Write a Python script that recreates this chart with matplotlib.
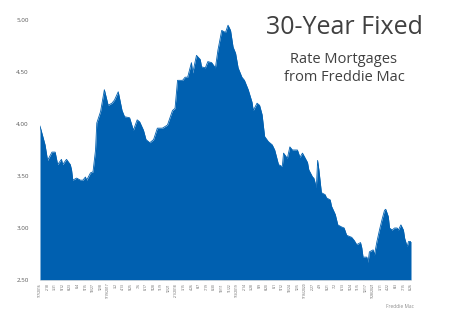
import matplotlib
matplotlib.use("Agg")
import matplotlib.pyplot as plt
import pandas as pd

# weeks since 1/7/2016 and 30-year fixed rate (%)
weeks = [0, 4, 6, 9.5, 12, 14, 17, 18, 21, 24, 25, 26, 29, 32, 34, 36, 37, 40, 42, 44,
         45, 48, 51, 54, 57, 59, 62, 65, 67, 71, 74, 77, 79, 82, 84, 87, 90, 93, 97, 101,
         105, 107, 109, 113, 115, 117, 120, 121, 124, 127, 128, 131, 133, 136, 139, 141,
         144, 147, 149, 151, 153, 155, 157, 160, 162, 165, 168, 169, 172, 174, 176, 178,
         181, 184, 186, 189, 192, 193, 196, 198, 200, 204, 206, 208, 212, 213, 216, 217,
         219, 220, 221, 223, 226, 227, 230, 231, 234, 236, 239, 241, 243, 247, 249, 251,
         254, 255, 256, 259, 260, 261, 264, 265, 267, 269, 271, 273, 274, 276, 277, 279,
         281, 283, 284, 286, 288, 289, 291, 292, 294]
rates = [3.98, 3.80, 3.65, 3.73, 3.73, 3.61, 3.66, 3.61, 3.66, 3.61, 3.56, 3.46, 3.48, 3.46,
         3.46, 3.49, 3.46, 3.53, 3.54, 3.75,
         4.01, 4.12, 4.33, 4.18, 4.20, 4.23, 4.31, 4.13, 4.07, 4.06, 3.94, 4.04, 4.02, 3.94,
         3.85, 3.82, 3.85, 3.96, 3.96, 3.99,
         4.13, 4.15, 4.42, 4.42, 4.45, 4.45, 4.59, 4.49, 4.66, 4.62, 4.55, 4.54, 4.60, 4.59,
         4.54, 4.71,
         4.90, 4.88, 4.95, 4.90, 4.74, 4.68, 4.54, 4.45, 4.42, 4.33, 4.21, 4.13, 4.20, 4.18,
         4.09, 3.88,
         3.83, 3.80, 3.75, 3.61, 3.59, 3.72, 3.67, 3.78, 3.75, 3.75, 3.68, 3.72, 3.63, 3.56,
         3.49, 3.48,
         3.39, 3.65, 3.56, 3.34, 3.32, 3.29, 3.27, 3.21, 3.13, 3.03, 3.01, 3.00, 2.93, 2.91,
         2.88, 2.84,
         2.86, 2.81, 2.72, 2.72, 2.67, 2.77, 2.79, 2.74, 2.87, 2.98, 3.08, 3.17, 3.18, 3.11,
         3.00, 2.98,
         3.00, 3.00, 2.98, 3.03, 2.98, 2.90, 2.82, 2.87, 2.87]

yticks = [2.50, 3.00, 3.50, 4.00, 4.50, 5.00]
start = pd.Timestamp("2016-01-07")
tick_weeks = list(range(0, 295, 6))
tick_dates = [start + pd.Timedelta(weeks=w) for w in tick_weeks]
tick_labels = []
prev_year = None
for d in tick_dates:
    if prev_year is None or d.year != prev_year:
        tick_labels.append(f"{d.month}/{d.day}/{d.year}")
    else:
        tick_labels.append(f"{d.month}/{d.day}")
    prev_year = d.year

blue = "#0060B0"
gray = "#595959"

fig = plt.figure(figsize=(4.5, 3.14), dpi=100)
ax = fig.add_axes([40/450, 34/314, 371/450, 260/314])
ax.fill_between(weeks, rates, 2.5, color=blue, lw=0)
ax.plot(weeks, rates, color=blue, lw=0.6)
ax.set_xlim(0, 294)
ax.set_ylim(2.5, 5.0)
ax.set_yticks(yticks)
ax.set_yticklabels([f"{v:.2f}" for v in yticks], fontsize=4.5, color=gray, family="Open Sans")
ax.set_xticks(tick_weeks)
ax.set_xticklabels(tick_labels, rotation=90, fontsize=2.3, color=gray, family="Open Sans")
ax.tick_params(axis="both", length=0, pad=2)
ax.tick_params(axis="y", pad=8)
for s in ["top", "right", "left"]:
    ax.spines[s].set_visible(False)
ax.spines["bottom"].set_color("#D9D9D9")
ax.spines["bottom"].set_linewidth(0.5)

fig.text(344/450, 1 - 28/314, "30-Year Fixed", fontsize=18, color="#404040",
         ha="center", va="center", family="Open Sans")
fig.text(344/450, 1 - 59/314, "Rate Mortgages", fontsize=10.5, color="#404040",
         ha="center", va="center", family="Open Sans")
fig.text(344/450, 1 - 77/314, "from Freddie Mac", fontsize=10.5, color="#404040",
         ha="center", va="center", family="Open Sans")
fig.text(400/450, 1 - 306/314, "Freddie Mac", fontsize=3.5, color="#8C8C8C",
         ha="center", va="center", family="Open Sans")

fig.savefig("out.png", dpi=100)
